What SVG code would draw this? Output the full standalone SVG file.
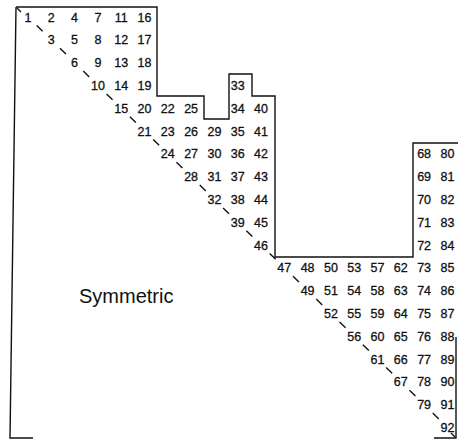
<svg xmlns="http://www.w3.org/2000/svg" width="458" height="440" viewBox="0 0 458 440">
<style>
.n{font-family:"Liberation Sans",Arial,sans-serif;font-size:12.5px;fill:#111;stroke:#111;stroke-width:0.3;text-anchor:middle}
.ln{fill:none;stroke:#111;stroke-width:1.4}
.dg{fill:none;stroke:#111;stroke-width:1.4}
.lb{font-family:"Liberation Sans",Arial,sans-serif;font-size:20px;fill:#111}
</style>
<rect width="458" height="440" fill="#fff"/>
<g id="connectors">
<path id="outline" class="ln" d="M16,7 H157 V96 H204 V119 H229 V74 H252 V96 H275 V257 H413 V143 H458"/>
<path id="leftBracket" class="ln" d="M16,7 L10,438 H33"/>
<path id="rightBracket" class="ln" d="M456,337 V438 H434"/>
<path id="diagonal" class="dg" d="M17,8 l4,4 M36.65,25.5 l6,5.8 M59.95,48.3 l6,5.8 M83.25,71.1 l6,5.8 M106.55,93.9 l6,5.8 M129.85,116.7 l6,5.8 M153.15,139.5 l6,5.8 M176.45,162.3 l6,5.8 M199.75,185.1 l6,5.8 M223.05,207.9 l6,5.8 M246.35,230.7 l6,5.8 M269.65,253.5 l6,5.8 M292.95,276.3 l6,5.8 M316.25,299.1 l6,5.8 M339.55,321.9 l6,5.8 M362.85,344.7 l6,5.8 M386.15,367.5 l6,5.8 M409.45,390.3 l6,5.8 M432.75,413.1 l6,5.8 M451,433 l4,4"/>
</g>
<g id="row0" class="n"><text x="28" y="21.5">1</text><text x="51.3" y="21.5">2</text><text x="74.6" y="21.5">4</text><text x="97.9" y="21.5">7</text><text x="121.2" y="21.5">11</text><text x="144.5" y="21.5">16</text></g>
<g id="row1" class="n"><text x="51.3" y="44.3">3</text><text x="74.6" y="44.3">5</text><text x="97.9" y="44.3">8</text><text x="121.2" y="44.3">12</text><text x="144.5" y="44.3">17</text></g>
<g id="row2" class="n"><text x="74.6" y="67.1">6</text><text x="97.9" y="67.1">9</text><text x="121.2" y="67.1">13</text><text x="144.5" y="67.1">18</text></g>
<g id="row3" class="n"><text x="97.9" y="89.9">10</text><text x="121.2" y="89.9">14</text><text x="144.5" y="89.9">19</text><text x="237.7" y="89.9">33</text></g>
<g id="row4" class="n"><text x="121.2" y="112.7">15</text><text x="144.5" y="112.7">20</text><text x="167.8" y="112.7">22</text><text x="191.1" y="112.7">25</text><text x="237.7" y="112.7">34</text><text x="261" y="112.7">40</text></g>
<g id="row5" class="n"><text x="144.5" y="135.5">21</text><text x="167.8" y="135.5">23</text><text x="191.1" y="135.5">26</text><text x="214.4" y="135.5">29</text><text x="237.7" y="135.5">35</text><text x="261" y="135.5">41</text></g>
<g id="row6" class="n"><text x="167.8" y="158.3">24</text><text x="191.1" y="158.3">27</text><text x="214.4" y="158.3">30</text><text x="237.7" y="158.3">36</text><text x="261" y="158.3">42</text><text x="424.1" y="158.3">68</text><text x="447.4" y="158.3">80</text></g>
<g id="row7" class="n"><text x="191.1" y="181.1">28</text><text x="214.4" y="181.1">31</text><text x="237.7" y="181.1">37</text><text x="261" y="181.1">43</text><text x="424.1" y="181.1">69</text><text x="447.4" y="181.1">81</text></g>
<g id="row8" class="n"><text x="214.4" y="203.9">32</text><text x="237.7" y="203.9">38</text><text x="261" y="203.9">44</text><text x="424.1" y="203.9">70</text><text x="447.4" y="203.9">82</text></g>
<g id="row9" class="n"><text x="237.7" y="226.7">39</text><text x="261" y="226.7">45</text><text x="424.1" y="226.7">71</text><text x="447.4" y="226.7">83</text></g>
<g id="row10" class="n"><text x="261" y="249.5">46</text><text x="424.1" y="249.5">72</text><text x="447.4" y="249.5">84</text></g>
<g id="row11" class="n"><text x="284.3" y="272.3">47</text><text x="307.6" y="272.3">48</text><text x="330.9" y="272.3">50</text><text x="354.2" y="272.3">53</text><text x="377.5" y="272.3">57</text><text x="400.8" y="272.3">62</text><text x="424.1" y="272.3">73</text><text x="447.4" y="272.3">85</text></g>
<g id="row12" class="n"><text x="307.6" y="295.1">49</text><text x="330.9" y="295.1">51</text><text x="354.2" y="295.1">54</text><text x="377.5" y="295.1">58</text><text x="400.8" y="295.1">63</text><text x="424.1" y="295.1">74</text><text x="447.4" y="295.1">86</text></g>
<g id="row13" class="n"><text x="330.9" y="317.9">52</text><text x="354.2" y="317.9">55</text><text x="377.5" y="317.9">59</text><text x="400.8" y="317.9">64</text><text x="424.1" y="317.9">75</text><text x="447.4" y="317.9">87</text></g>
<g id="row14" class="n"><text x="354.2" y="340.7">56</text><text x="377.5" y="340.7">60</text><text x="400.8" y="340.7">65</text><text x="424.1" y="340.7">76</text><text x="447.4" y="340.7">88</text></g>
<g id="row15" class="n"><text x="377.5" y="363.5">61</text><text x="400.8" y="363.5">66</text><text x="424.1" y="363.5">77</text><text x="447.4" y="363.5">89</text></g>
<g id="row16" class="n"><text x="400.8" y="386.3">67</text><text x="424.1" y="386.3">78</text><text x="447.4" y="386.3">90</text></g>
<g id="row17" class="n"><text x="424.1" y="409.1">79</text><text x="447.4" y="409.1">91</text></g>
<g id="row18" class="n"><text x="447.4" y="431.9">92</text></g>
<g id="label"><text class="lb" x="79" y="303">Symmetric</text></g>
</svg>
